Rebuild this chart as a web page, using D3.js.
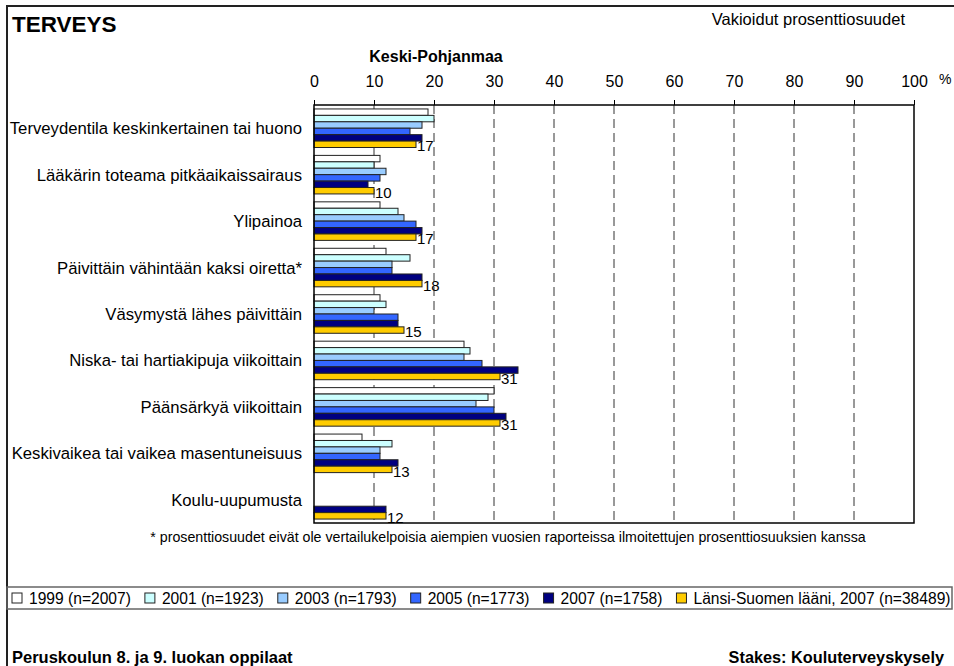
<!DOCTYPE html>
<html>
<head>
    <title></title>
    <meta charset="utf-8">
    <style>
        body { margin: 0; background: #fff; }
        text { font-family: "Liberation Sans", Arial, sans-serif; fill: #000; }
    </style>
</head>
<body>
<script src="https://cdnjs.cloudflare.com/ajax/libs/d3/7.8.5/d3.min.js"></script>
<script>
    // categories, top to bottom
    var categories = [
        'Terveydentila keskinkertainen tai huono',
        'Lääkärin toteama pitkäaikaissairaus',
        'Ylipainoa',
        'Päivittäin vähintään kaksi oiretta*',
        'Väsymystä lähes päivittäin',
        'Niska- tai hartiakipuja viikoittain',
        'Päänsärkyä viikoittain',
        'Keskivaikea tai vaikea masentuneisuus',
        'Koulu-uupumusta'
    ];

    var seriesNames = ['1999 (n=2007)', '2001 (n=1923)', '2003 (n=1793)', '2005 (n=1773)', '2007 (n=1758)', 'Länsi-Suomen lääni, 2007 (n=38489)'];
    var seriesColors = ['#ffffff', '#ccffff', '#99ccff', '#3366ff', '#000080', '#ffcc00'];

    // one array per series, same order as categories (null = no value)
    var v1999 = [19, 11, 11, 12, 11, 25, 30, 8, null];
    var v2001 = [20, 10, 14, 16, 12, 26, 29, 13, null];
    var v2003 = [18, 12, 15, 13, 10, 25, 27, 11, null];
    var v2005 = [16, 11, 17, 13, 14, 28, 30, 11, null];
    var v2007 = [18, 9, 18, 18, 14, 34, 32, 14, 12];
    var vLansi = [17, 10, 17, 18, 15, 31, 31, 13, 12];
    var seriesValues = [v1999, v2001, v2003, v2005, v2007, vLansi];

    var xTicks = [0, 10, 20, 30, 40, 50, 60, 70, 80, 90, 100];

    var W = 954, H = 666;
    var plot = { left: 314, right: 914, top: 105, bottom: 523 };

    var svg = d3.select('body').append('svg')
        .attr('width', W)
        .attr('height', H);

    // outer frame (left and top edges only show in the picture)
    svg.append('path')
        .attr('d', 'M7,' + H + 'V6H' + W)
        .style('fill', 'none').style('stroke', '#222').style('stroke-width', 2);

    svg.append('text').attr('x', 12).attr('y', 32)
        .style('font-size', '22.5px').style('font-weight', 'bold')
        .text('TERVEYS');

    svg.append('text').attr('x', 905).attr('y', 25)
        .attr('text-anchor', 'end')
        .style('font-size', '16.5px')
        .text('Vakioidut prosenttiosuudet');

    svg.append('text').attr('x', 436).attr('y', 62)
        .attr('text-anchor', 'middle')
        .style('font-size', '16px').style('font-weight', 'bold')
        .text('Keski-Pohjanmaa');

    var x = d3.scaleLinear().domain([0, 100]).range([plot.left, plot.right]);
    var y = d3.scaleBand().domain(categories).range([plot.top, plot.bottom])
        .paddingInner(0.17).paddingOuter(0.085);
    var ys = d3.scaleBand().domain(d3.range(seriesNames.length)).range([0, y.bandwidth()]);

    // dashed gridlines
    svg.append('g').selectAll('line')
        .data(xTicks.filter(function (d) { return d > 0 && d < 100; }))
        .enter().append('line')
        .attr('x1', function (d) { return x(d); })
        .attr('x2', function (d) { return x(d); })
        .attr('y1', plot.top).attr('y2', plot.bottom)
        .style('stroke', '#333').style('stroke-dasharray', '9,5');

    // top axis
    var axis = svg.append('g')
        .attr('transform', 'translate(0,' + plot.top + ')')
        .call(d3.axisTop(x).tickValues(xTicks).tickSize(5).tickPadding(13));
    axis.select('.domain').remove();
    axis.selectAll('line').style('stroke', '#000');
    axis.selectAll('text').style('font-size', '16px').style('font-family', '"Liberation Sans", Arial, sans-serif');

    svg.append('text').attr('x', 939).attr('y', 84)
        .style('font-size', '14px')
        .text('%');

    // bars
    var groups = svg.append('g').selectAll('g')
        .data(seriesValues)
        .enter().append('g')
        .style('fill', function (d, i) { return seriesColors[i]; });

    groups.each(function (vals, si) {
        d3.select(this).selectAll('rect')
            .data(vals.map(function (v, ci) { return { v: v, c: categories[ci] }; })
                .filter(function (d) { return d.v !== null; }))
            .enter().append('rect')
            .attr('x', x(0))
            .attr('y', function (d) { return y(d.c) + ys(si); })
            .attr('width', function (d) { return x(d.v) - x(0); })
            .attr('height', ys.bandwidth())
            .style('stroke', '#222').style('stroke-width', 1);
    });

    // value labels for the last series
    var last = seriesValues.length - 1;
    svg.append('g').selectAll('text')
        .data(vLansi.map(function (v, ci) { return { v: v, c: categories[ci] }; }))
        .enter().append('text')
        .attr('x', function (d) { return x(d.v) + 1; })
        .attr('y', function (d) { return y(d.c) + ys(last) + ys.bandwidth() + 4; })
        .style('font-size', '15px')
        .text(function (d) { return d.v; });

    // plot frame
    svg.append('rect')
        .attr('x', plot.left).attr('y', plot.top)
        .attr('width', plot.right - plot.left).attr('height', plot.bottom - plot.top)
        .style('fill', 'none').style('stroke', '#000').style('stroke-width', 1.5);

    // category labels
    svg.append('g').selectAll('text')
        .data(categories)
        .enter().append('text')
        .attr('x', 302)
        .attr('y', function (d) { return y(d) + y.bandwidth() / 2 + 6; })
        .attr('text-anchor', 'end')
        .style('font-size', '16.7px')
        .text(function (d) { return d; });

    svg.append('text').attr('x', 508).attr('y', 542)
        .attr('text-anchor', 'middle')
        .style('font-size', '14.2px')
        .text('* prosenttiosuudet eivät ole vertailukelpoisia aiempien vuosien raporteissa ilmoitettujen prosenttiosuuksien kanssa');

    // legend box
    svg.append('rect')
        .attr('x', 7).attr('y', 587).attr('width', 945).attr('height', 22)
        .style('fill', 'none').style('stroke', '#666').style('stroke-width', 1.5);

    var lx = 12;
    seriesNames.forEach(function (name, i) {
        svg.append('rect')
            .attr('x', lx).attr('y', 593).attr('width', 10).attr('height', 10)
            .style('fill', seriesColors[i]).style('stroke', '#222');
        var t = svg.append('text')
            .attr('x', lx + 17).attr('y', 604)
            .style('font-size', '15.6px')
            .text(name);
        lx += 17 + t.node().getComputedTextLength() + 14;
    });

    svg.append('text').attr('x', 12).attr('y', 663)
        .style('font-size', '16.5px').style('font-weight', 'bold')
        .text('Peruskoulun 8. ja 9. luokan oppilaat');

    svg.append('text').attr('x', 944).attr('y', 663)
        .attr('text-anchor', 'end')
        .style('font-size', '16.3px').style('font-weight', 'bold')
        .text('Stakes: Kouluterveyskysely');
</script>
</body>
</html>
